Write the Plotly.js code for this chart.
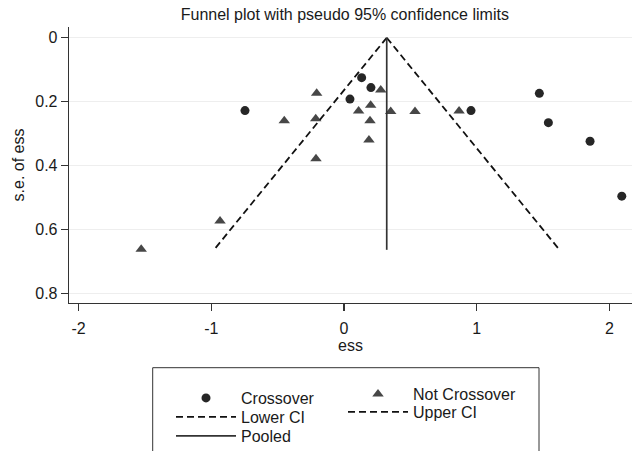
<!DOCTYPE html>
<html>
<head>
<meta charset="utf-8">
<script src="https://cdn.plot.ly/plotly-3.0.1.min.js"></script>
<style>html,body{margin:0;padding:0;background:#fff;}#chart{width:635px;height:451px;}</style>
</head>
<body>
<div id="chart"></div>
<script>
// Study estimates (ess) and their standard errors
const crossoverESS = [-0.746, 0.045, 0.133, 0.203, 0.957, 1.472, 1.540, 1.854, 2.093];
const crossoverSE  = [0.228, 0.192, 0.125, 0.156, 0.228, 0.174, 0.266, 0.324, 0.496];
const notCrossoverESS = [-1.528, -0.934, -0.450, -0.206, -0.213, -0.211, 0.110, 0.201, 0.196, 0.188, 0.277, 0.352, 0.535, 0.867];
const notCrossoverSE  = [0.662, 0.574, 0.260, 0.174, 0.254, 0.379, 0.229, 0.211, 0.260, 0.320, 0.164, 0.231, 0.231, 0.229];
const pooledESS = 0.322;
const ciSE = [0, 0.664];
const z95 = 1.96;
const lowerCI = ciSE.map(s => pooledESS - z95 * s);
const upperCI = ciSE.map(s => pooledESS + z95 * s);
const pooledX = ciSE.map(() => pooledESS);
const yTicks = [0, 0.2, 0.4, 0.6, 0.8];
const yTickText = ['0', '0.2', '0.4', '0.6', '0.8'];
const xTicks = [-2, -1, 0, 1, 2];
const xTickText = ['-2', '-1', '0', '1', '2'];

const FONT = 'Liberation Sans, Arial, Helvetica, sans-serif';

const traces = [
  {x: crossoverESS, y: crossoverSE, type: 'scatter', mode: 'markers', name: 'Crossover', legend: 'legend',
   marker: {symbol: 'circle', size: 9, color: '#262626'}},
  {x: notCrossoverESS, y: notCrossoverSE, type: 'scatter', mode: 'markers', name: 'Not Crossover', legend: 'legend2',
   marker: {symbol: 'triangle-up', size: 10, color: '#474747'}},
  {x: lowerCI, y: ciSE, type: 'scatter', mode: 'lines', name: 'Lower CI', legend: 'legend3',
   line: {color: '#111', width: 1.8, dash: '7px,4px'}},
  {x: upperCI, y: ciSE, type: 'scatter', mode: 'lines', name: 'Upper CI', legend: 'legend4',
   line: {color: '#111', width: 1.8, dash: '7px,4px'}},
  {x: pooledX, y: ciSE, type: 'scatter', mode: 'lines', name: 'Pooled', legend: 'legend5',
   line: {color: '#333', width: 1.7}}
];

const legendCommon = {
  orientation: 'v', xanchor: 'left', yanchor: 'top', yref: 'container',
  borderwidth: 0, bgcolor: 'rgba(0,0,0,0)', itemwidth: 60, traceorder: 'normal',
  font: {family: FONT, size: 16, color: '#1a1a1a'}
};
const col1 = (171 - 69) / 563, col2 = (343 - 69) / 563;
const legendAt = (x, topPx) => Object.assign({}, legendCommon, {x: x, y: 1 - topPx / 451});

const layout = {
  width: 635, height: 451,
  margin: {l: 69, r: 3, t: 27, b: 148, autoexpand: false},
  paper_bgcolor: '#fff', plot_bgcolor: '#fff',
  font: {family: FONT, size: 16, color: '#1a1a1a'},
  title: {text: 'Funnel plot with pseudo 95% confidence limits', font: {family: FONT, size: 16, color: '#1a1a1a'},
          x: 0.543, xanchor: 'center', y: 1 - 14/451, yanchor: 'middle', yref: 'container'},
  xaxis: {
    range: [-2.072, 2.17], tickvals: xTicks, ticktext: xTickText,
    showgrid: false, zeroline: false, showline: true, linecolor: '#333', linewidth: 1.3,
    ticks: 'outside', ticklen: 7, tickcolor: '#333', tickwidth: 1.3,
    ticklabelstandoff: 3,
    title: {text: 'ess', font: {family: FONT, size: 16}, standoff: 4}
  },
  yaxis: {
    range: [0.8305, -0.0336], tickvals: yTicks, ticktext: yTickText,
    showgrid: true, gridcolor: '#eeeeee', gridwidth: 1, zeroline: false,
    showline: true, linecolor: '#333', linewidth: 1.3,
    ticks: 'outside', ticklen: 7, tickcolor: '#333', tickwidth: 1.3,
    title: {text: 's.e. of ess', font: {family: FONT, size: 16}, standoff: 6}
  },
  showlegend: true,
  legend: legendAt(col1, 381),
  legend2: legendAt(col2, 377),
  legend3: legendAt(col1, 400),
  legend4: legendAt(col2, 395),
  legend5: legendAt(col1, 419),
  shapes: [{
    type: 'rect', xref: 'paper', yref: 'paper', layer: 'below',
    x0: (152.7 - 69) / 563, x1: (539 - 69) / 563,
    y0: -(367.7 - 303) / 276, y1: -(470 - 303) / 276,
    line: {color: '#333', width: 1}, fillcolor: 'rgba(0,0,0,0)'
  }]
};

Plotly.newPlot('chart', traces, layout, {staticPlot: true, displayModeBar: false});
</script>
</body>
</html>
